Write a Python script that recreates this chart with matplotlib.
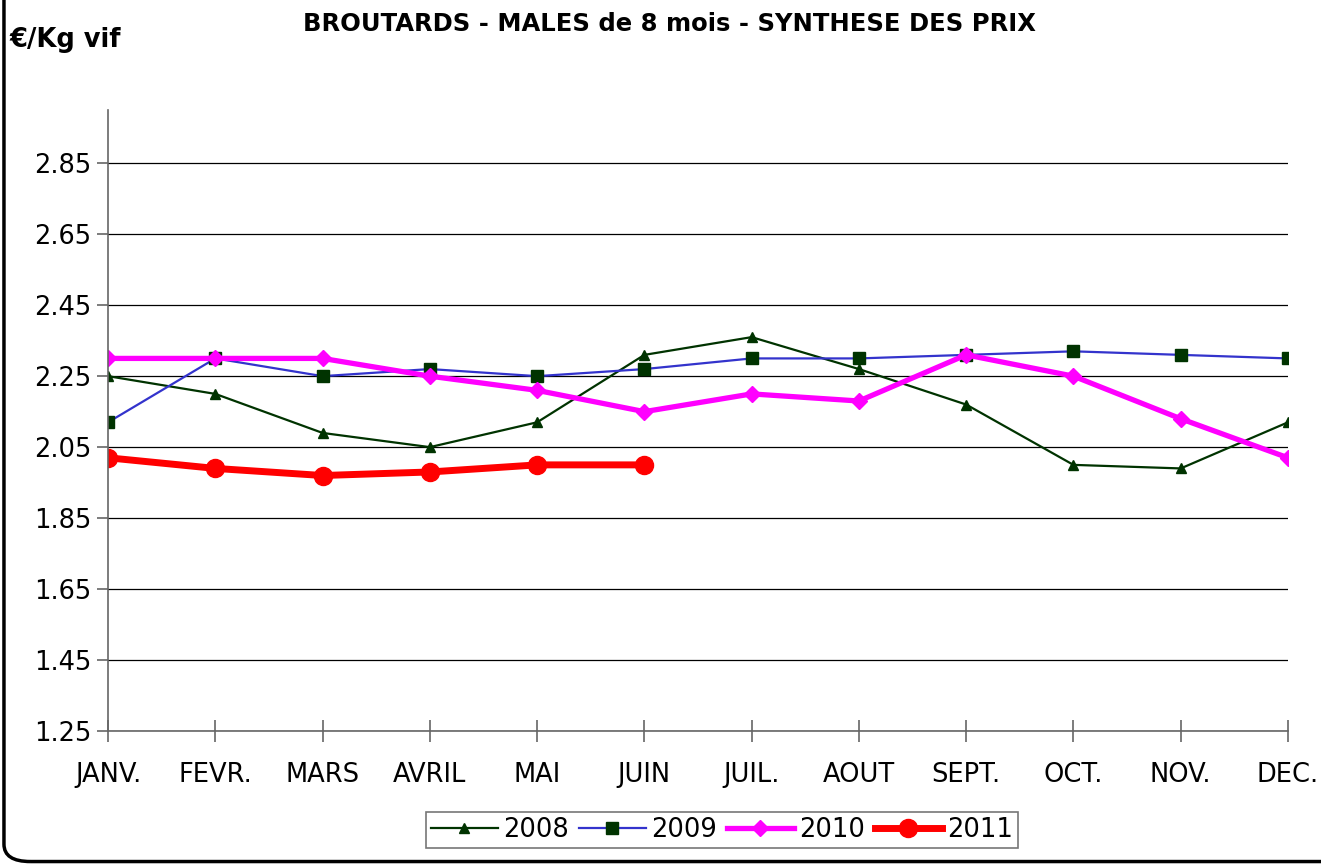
import matplotlib.pyplot as plt
from matplotlib.patches import FancyBboxPatch

# données
mois = ['JANV.', 'FEVR.', 'MARS', 'AVRIL', 'MAI', 'JUIN',
        'JUIL.', 'AOUT', 'SEPT.', 'OCT.', 'NOV.', 'DEC.']
prix_2008 = [2.25, 2.20, 2.09, 2.05, 2.12, 2.31, 2.36, 2.27, 2.17, 2.00, 1.99, 2.12]
prix_2009 = [2.12, 2.30, 2.25, 2.27, 2.25, 2.27, 2.30, 2.30, 2.31, 2.32, 2.31, 2.30]
prix_2010 = [2.30, 2.30, 2.30, 2.25, 2.21, 2.15, 2.20, 2.18, 2.31, 2.25, 2.13, 2.02]
prix_2011 = [2.02, 1.99, 1.97, 1.98, 2.00, 2.00]
yticks = [1.25, 1.45, 1.65, 1.85, 2.05, 2.25, 2.45, 2.65, 2.85]

plt.rcParams['font.family'] = ['DejaVu Sans']

fig = plt.figure(figsize=(13.21, 8.65), dpi=100)
ax = fig.add_axes([0.0818, 0.1549, 0.8932, 0.7179])

x = range(len(mois))
ax.plot(x, prix_2008, color='#003300', lw=1.6, marker='^', ms=7,
        mfc='#003300', mec='#003300', label='2008')
ax.plot(x, prix_2009, color='#3333CC', lw=1.6, marker='s', ms=9,
        mfc='#003300', mec='#003300', label='2009')
ax.plot(x, prix_2010, color='#FF00FF', lw=3.8, marker='D', ms=8,
        mfc='#FF00FF', mec='#FF00FF', label='2010')
ax.plot(range(len(prix_2011)), prix_2011, color='#FF0000', lw=5, marker='o',
        ms=13, mfc='#FF0000', mec='#FF0000', label='2011')

ax.set_xlim(0, 11)
ax.set_ylim(1.25, 3.0)
ax.set_yticks(yticks)
ax.set_yticklabels(['%.2f' % v for v in yticks])
ax.set_xticks(list(x))
ax.set_xticklabels(mois)
ax.grid(axis='y', color='black', lw=0.9)
ax.set_axisbelow(True)

for s in ['top', 'right']:
    ax.spines[s].set_visible(False)
for s in ['left', 'bottom']:
    ax.spines[s].set_color('#666666')
    ax.spines[s].set_linewidth(1.2)
ax.tick_params(axis='y', length=8, width=1.2, color='#666666', labelsize=18.5, pad=4)
ax.tick_params(axis='x', direction='inout', length=16, width=1.2, color='#666666',
               labelsize=18.5, pad=14)

fig.text(0.507, 0.972, 'BROUTARDS - MALES de 8 mois - SYNTHESE DES PRIX',
         ha='center', va='center', fontsize=17.5, fontweight='bold')
fig.text(0.007, 0.954, '€/Kg vif', ha='left', va='center', fontsize=18.5,
         fontweight='bold')

leg = fig.legend(loc='center', bbox_to_anchor=(0.5465, 0.0405), ncol=4,
                 fontsize=18.5, frameon=True, fancybox=False, edgecolor='#555555',
                 handlelength=2.6, handletextpad=0.2, columnspacing=0.4,
                 borderpad=0.2, borderaxespad=0)
leg.get_frame().set_linewidth(1.2)

# cadre arrondi du graphique
cadre = FancyBboxPatch((0.003, 0.004), 1.1, 1.1, boxstyle='round,pad=0,rounding_size=0.02',
                       transform=fig.transFigure, fill=False, ec='black', lw=2.5,
                       clip_on=False)
fig.patches.append(cadre)

plt.savefig('out.png', dpi=100)
